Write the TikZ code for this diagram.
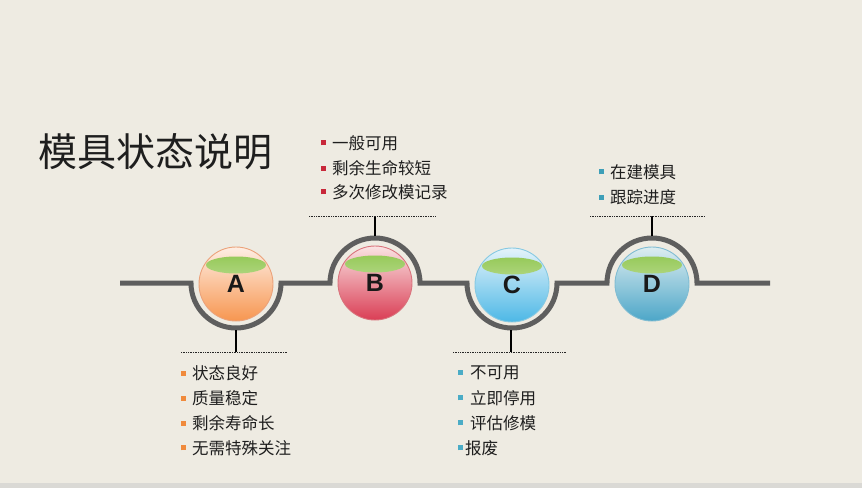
\documentclass[tikz,border=0pt]{standalone}
\usepackage{fontspec}
\setmainfont{Liberation Sans}
\newfontfamily\cjk{Noto Sans CJK SC}
\newfontfamily\lettfont{Liberation Sans}
\usetikzlibrary{shapes.geometric}
\definecolor{bg}{HTML}{EEEBE2}
\definecolor{strip}{HTML}{DAD9D5}
\definecolor{trackc}{HTML}{5E5E5E}
\definecolor{txt}{HTML}{1E1E1E}
\definecolor{bulA}{HTML}{F08A3C}
\definecolor{bulB}{HTML}{C8283A}
\definecolor{bulC}{HTML}{4BACC6}
\definecolor{bulD}{HTML}{3E9FB8}
\definecolor{hlg}{HTML}{8CC448}
\definecolor{hlw}{HTML}{E4F1D6}
\definecolor{aT}{HTML}{FEEEE4}\definecolor{aM}{HTML}{FCDAC6}\definecolor{aB}{HTML}{F79650}\definecolor{aR}{HTML}{EBA27A}
\definecolor{bT}{HTML}{FAE3E3}\definecolor{bM}{HTML}{F5C0C5}\definecolor{bB}{HTML}{DA3E55}\definecolor{bR}{HTML}{D9737C}
\definecolor{cT}{HTML}{E4F3FA}\definecolor{cM}{HTML}{C8E8F6}\definecolor{cB}{HTML}{4DB8E6}\definecolor{cR}{HTML}{86C9E2}
\definecolor{dT}{HTML}{DDEDF0}\definecolor{dM}{HTML}{C0DDE8}\definecolor{dB}{HTML}{4CA6C8}\definecolor{dR}{HTML}{80BCD2}
\newcommand{\bulsq}[2]{\textcolor{#1}{\rule[0.23em]{5pt}{5pt}}\hspace{#2}}
\begin{document}
\begin{tikzpicture}[x=1pt,y=-1pt,
  track/.style={draw=trackc,line width=5pt},
  stub/.style={draw=black,line width=1.3pt},
  dotline/.style={draw=black!85,line width=0.7pt,densely dotted},
  item/.style={font=\cjk\fontsize{16.5pt}{16.5pt}\selectfont,anchor=west,inner sep=0pt,text=txt},
  ball/.style={circle,minimum size=74pt,inner sep=0pt,
    top color=#1T,middle color=#1M,bottom color=#1B,draw=#1R,line width=0.9pt,
    font=\lettfont\bfseries\fontsize{25pt}{25pt}\selectfont,text=black!90,
    path picture={\shade[top color=hlg,bottom color=hlw]
      ([yshift=19pt]path picture bounding box.center) ellipse [x radius=30pt,y radius=8.5pt];}},
]
\useasboundingbox (0,0) rectangle (862,488);
\fill[bg] (0,0) rectangle (862,488);
\fill[strip] (0,483) rectangle (862,488);

% title
\node[font=\cjk\fontsize{39pt}{39pt}\selectfont,anchor=west,inner sep=0pt,text=txt] (title) at (38,152) {模具状态说明};

% track
\coordinate (L) at (120,283);
\coordinate (R) at (770,283);
\draw[track] (L) -- (191,283) arc[start angle=180,end angle=360,radius=45pt]
  -- (330,283) arc[start angle=180,end angle=0,radius=45pt]
  -- (467,283) arc[start angle=180,end angle=360,radius=45pt]
  -- (607,283) arc[start angle=180,end angle=0,radius=45pt]
  -- (R);

% balls
\node[ball=a] (A) at (236,284) {A};
\node[ball=b] (B) at (375,283) {B};
\node[ball=c] (C) at (512,285) {C};
\node[ball=d] (D) at (652,284) {D};

% stubs and dotted lines
\coordinate (ta) at (236,352);
\coordinate (tb) at (375,216);
\coordinate (tc) at (511,352);
\coordinate (td) at (652,216);
\draw[stub] (236,330) -- (ta);
\draw[stub] (375,236) -- (tb);
\draw[stub] (511,330) -- (tc);
\draw[stub] (652,236) -- (td);
\draw[dotline] (181,352) -- (288,352);
\draw[dotline] (309,216) -- (435,216);
\draw[dotline] (453,352) -- (566,352);
\draw[dotline] (590,216) -- (705,216);

% B list
\node[item] (b1) at (321,143) {\bulsq{bulB}{6pt}一般可用};
\node[item] (b2) at (321,168) {\bulsq{bulB}{6pt}剩余生命较短};
\node[item] (b3) at (321,192) {\bulsq{bulB}{6pt}多次修改模记录};
% D list
\node[item] (d1) at (599,172) {\bulsq{bulD}{6pt}在建模具};
\node[item] (d2) at (599,197) {\bulsq{bulD}{6pt}跟踪进度};
% A list
\node[item] (a1) at (181,373) {\bulsq{bulA}{6pt}状态良好};
\node[item] (a2) at (181,398) {\bulsq{bulA}{6pt}质量稳定};
\node[item] (a3) at (181,423) {\bulsq{bulA}{6pt}剩余寿命长};
\node[item] (a4) at (181,448) {\bulsq{bulA}{6pt}无需特殊关注};
% C list
\node[item] (c1) at (458,373) {\bulsq{bulC}{7pt}不可用};
\node[item] (c2) at (458,398) {\bulsq{bulC}{7pt}立即停用};
\node[item] (c3) at (458,423) {\bulsq{bulC}{7pt}评估修模};
\node[item] (c4) at (458,448) {\bulsq{bulC}{2pt}报废};
\end{tikzpicture}
\end{document}
